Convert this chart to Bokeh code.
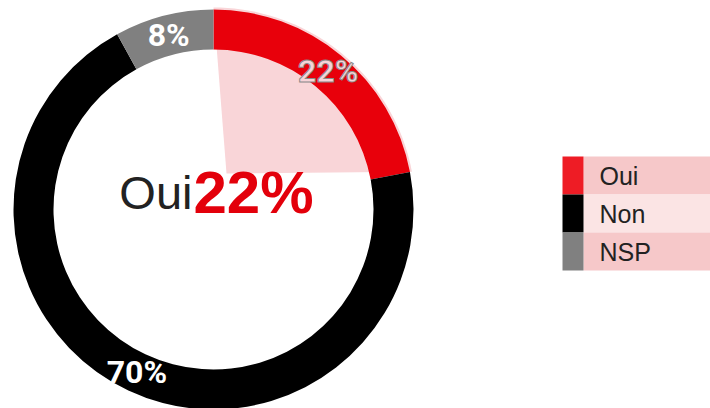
import math
from bokeh.plotting import figure
from bokeh.models import Range1d, ColumnDataSource
from bokeh.core.properties import value
from bokeh.embed import file_html
from bokeh.resources import INLINE

# ---- data ----
categories = ["Oui", "Non", "NSP"]
percents = [22, 70, 8]
labels = ["22%", "70%", "8%"]
ring_colors = ["#e8000b", "#000000", "#808080"]
swatch_colors = ["#ee1c25", "#000000", "#808080"]
row_colors = ["#f6c8c9", "#fbe4e4", "#f6c8c9"]
highlight = "Oui"
highlight_value = "22%"

W, H = 710, 408
p = figure(width=W, height=H, output_backend="svg", toolbar_location=None,
           x_range=Range1d(0, W), y_range=Range1d(0, H),
           min_border=0, outline_line_color=None)
p.axis.visible = False
p.grid.visible = False
p.background_fill_color = "white"
p.border_fill_color = "white"

def Y(py):
    return H - py

cx, cy = 213, Y(209)
r_out, r_in = 200, 160

# angles (counterclockwise from +x), slices run clockwise from the top
starts, ends, mids = [], [], []
acc = 0.0
total = sum(percents)
for v in percents:
    a0 = math.pi / 2 - 2 * math.pi * acc / total
    a1 = math.pi / 2 - 2 * math.pi * (acc + v) / total
    starts.append(a0)
    ends.append(a1)
    mids.append((a0 + a1) / 2)
    acc += v

# highlight shape behind the selected slice
hi = categories.index(highlight)
apex = (cx + 13, cy + 36)
n = 40
xs = [apex[0]]
ys = [apex[1]]
for k in range(n + 1):
    a = starts[hi] + (ends[hi] - starts[hi]) * k / n
    xs.append(cx + (r_out + 2) * math.cos(a))
    ys.append(cy + (r_out + 2) * math.sin(a))
p.patch(xs, ys, fill_color="#f9d5d8", line_color=None)

src = ColumnDataSource(dict(start=starts, end=ends, color=ring_colors))
p.annular_wedge(x=cx, y=cy, inner_radius=r_in, outer_radius=r_out,
                start_angle="start", end_angle="end", direction="clock",
                fill_color="color", line_color=None, source=src)

# slice labels
r_lab = 180
lx = [cx + r_lab * math.cos(a) for a in mids]
ly = [cy + r_lab * math.sin(a) for a in mids]
lab_colors = ["#f7d3d8" if c == highlight else "#ffffff" for c in categories]
for i in range(len(categories)):
    kw = {}
    if categories[i] == highlight:
        kw["text_outline_color"] = "#8a8a8a"
    p.text(x=[lx[i]], y=[ly[i]], text=[labels[i]], text_align="center",
           text_baseline="middle", text_font=value("Roboto"),
           text_font_style="bold", text_font_size="32px",
           text_color=lab_colors[i], **kw)

# center text
p.text(x=[192], y=[Y(192)], text=[highlight], text_align="right",
       text_baseline="alphabetic", text_font=value("Liberation Sans"),
       text_font_size="47px", text_color="#222222")
p.text(x=[193], y=[Y(192)], text=[highlight_value], text_align="left",
       text_baseline="alphabetic", text_font=value("Liberation Sans"),
       text_font_style="bold", text_font_size="60px", text_color="#e3000b")

# legend
row_top = 156
row_h = 38
sw_x0, sw_x1, band_x1 = 562, 583, 710
for i, c in enumerate(categories):
    top = Y(row_top + i * row_h)
    mid = top - row_h / 2
    p.rect(x=[(sw_x1 + band_x1) / 2], y=[mid], width=band_x1 - sw_x1,
           height=row_h, fill_color=row_colors[i], line_color=None)
    p.rect(x=[(sw_x0 + sw_x1) / 2], y=[mid], width=sw_x1 - sw_x0,
           height=row_h, fill_color=swatch_colors[i], line_color=None)
    p.text(x=[599], y=[mid], text=[c], text_align="left",
           text_baseline="middle", text_font=value("Liberation Sans"),
           text_font_size="25px", text_color="#222222")

open("out.html", "w").write(file_html(p, INLINE))
